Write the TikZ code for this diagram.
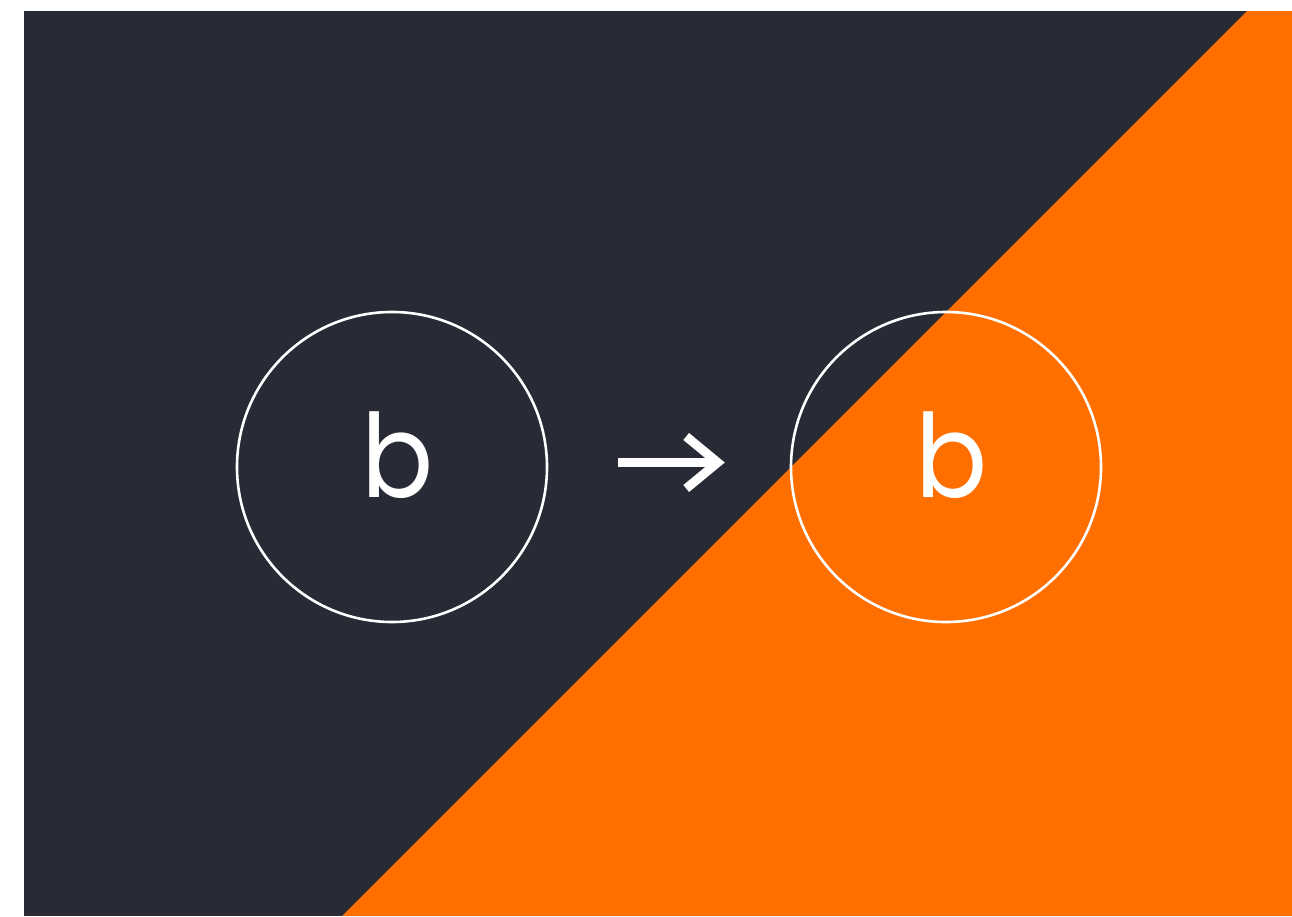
\documentclass[tikz,border=0pt]{standalone}
\usepackage{fontspec}
\setmainfont{Poppins}
\definecolor{bgdark}{RGB}{40,42,54}
\definecolor{bgorange}{RGB}{255,111,0}
\tikzset{
  ring/.style={circle, draw=white, line width=2.6pt, minimum size=310pt, inner sep=0pt},
  letter/.style={text=white, inner sep=0pt, font=\fontsize{116}{116}\selectfont},
  arrowpart/.style={draw=white, line width=9pt, miter limit=10, line join=miter, line cap=butt}
}
\begin{document}
\begin{tikzpicture}[x=1pt,y=-1pt]
\useasboundingbox (0,0) rectangle (1292,916);
\fill[white] (0,0) rectangle (1292,916);
\fill[bgdark] (24,11) rectangle (1292,916);
\fill[bgorange] (1247,11) -- (1292,11) -- (1292,916) -- (342,916) -- cycle;
\node[ring] (c1) at (392,467) {};
\node[ring] (c2) at (946,467) {};
\node[letter, anchor=base west] (b1) at (361,497) {\scalebox{0.92}[1]{b}};
\node[letter, anchor=base west] (b2) at (915,497) {\scalebox{0.92}[1]{b}};
\coordinate (s) at ([xshift=70pt,yshift=4.5pt]c1.east);
\coordinate (t) at ([xshift=-72pt,yshift=4.5pt]c2.west);
\draw[arrowpart] (s) -- ([xshift=-2pt]t);
\draw[arrowpart] ([xshift=-31.5pt,yshift=26pt]t) -- (t) -- ([xshift=-31.5pt,yshift=-26pt]t);
\end{tikzpicture}
\end{document}
